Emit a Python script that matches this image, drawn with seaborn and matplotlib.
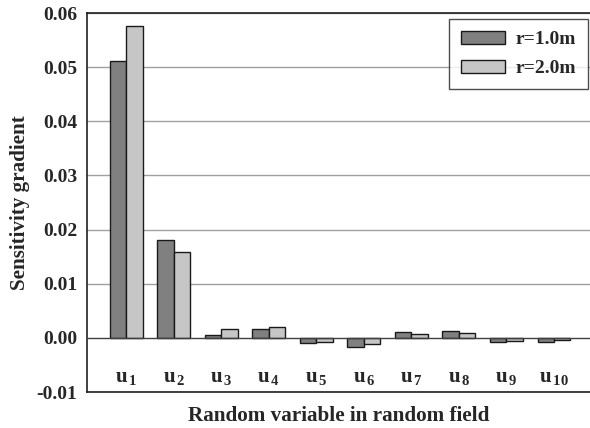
import matplotlib
matplotlib.use("Agg")
import matplotlib.pyplot as plt
import seaborn as sns
import pandas as pd

# Sensitivity gradients for the ten random variables of the random field
variables = ["u1", "u2", "u3", "u4", "u5", "u6", "u7", "u8", "u9", "u10"]
subscripts = ["1", "2", "3", "4", "5", "6", "7", "8", "9", "10"]
r1_values = [0.0511, 0.0180, 0.0005, 0.0016, -0.0009, -0.0016, 0.0010, 0.0012, -0.0008, -0.0007]
r2_values = [0.0576, 0.0159, 0.0017, 0.0020, -0.0008, -0.0012, 0.0007, 0.0009, -0.0006, -0.0004]
series_names = ["r=1.0m", "r=2.0m"]
y_ticks = [-0.01, 0.00, 0.01, 0.02, 0.03, 0.04, 0.05, 0.06]

df = pd.DataFrame({
    "variable": variables * 2,
    "gradient": r1_values + r2_values,
    "radius": [series_names[0]] * len(variables) + [series_names[1]] * len(variables),
})

sns.set_style("white")
plt.rcParams["font.family"] = ["Liberation Serif", "DejaVu Serif"]
plt.rcParams["font.weight"] = "bold"
plt.rcParams["mathtext.fontset"] = "custom"
plt.rcParams["mathtext.rm"] = "Liberation Serif:bold"
plt.rcParams["mathtext.bf"] = "Liberation Serif:bold"
plt.rcParams["mathtext.it"] = "Liberation Serif:bold"

fig = plt.figure(figsize=(5.90, 4.28), dpi=100)
ax = fig.add_axes([0.1475, 0.0841, 0.8525, 0.8855])

# horizontal grid behind the bars
for t in y_ticks:
    if t != 0:
        ax.axhline(t, color="#a0a0a0", lw=1.0, zorder=0)

sns.barplot(
    data=df, x="variable", y="gradient", hue="radius",
    palette=["#808080", "#c6c6c6"], width=0.69, gap=0,
    edgecolor="#1a1a1a", linewidth=1.0, ax=ax, zorder=2,
)
ax.axhline(0, color="#404040", lw=1.0, zorder=3)

ax.set_xlim(-0.827, 9.76)
ax.set_ylim(-0.01, 0.06)
ax.set_yticks(y_ticks)
ax.set_yticklabels([f"{t:.2f}" for t in y_ticks], fontsize=14, fontweight="bold")
ax.tick_params(axis="y", length=0, pad=7)
ax.set_xticks([])
ax.set_xlabel("Random variable in random field", fontsize=15.2, fontweight="bold", labelpad=10)
ax.set_ylabel("Sensitivity gradient", fontsize=15.2, fontweight="bold", labelpad=5)

# category names drawn inside the axes below the zero line
for i, sub in enumerate(subscripts):
    ax.text(i, -0.0072, r"$\mathbf{u}_{\,\mathbf{" + sub + "}}$", ha="center", va="center",
            fontsize=15, fontweight="bold")

for side in ["top", "left", "bottom"]:
    ax.spines[side].set_color("#202020")
    ax.spines[side].set_linewidth(1.2)
ax.spines["right"].set_visible(False)

leg = ax.legend(title=None, loc="upper right", bbox_to_anchor=(0.996, 0.984),
                frameon=True, fancybox=False, fontsize=14,
                handlelength=2.27, handleheight=0.67, borderpad=0.6,
                labelspacing=0.6, handletextpad=0.55, borderaxespad=0)
leg.get_frame().set_edgecolor("#202020")
leg.get_frame().set_linewidth(1.0)
for t in leg.get_texts():
    t.set_fontweight("bold")

fig.savefig("out.png", dpi=100)
